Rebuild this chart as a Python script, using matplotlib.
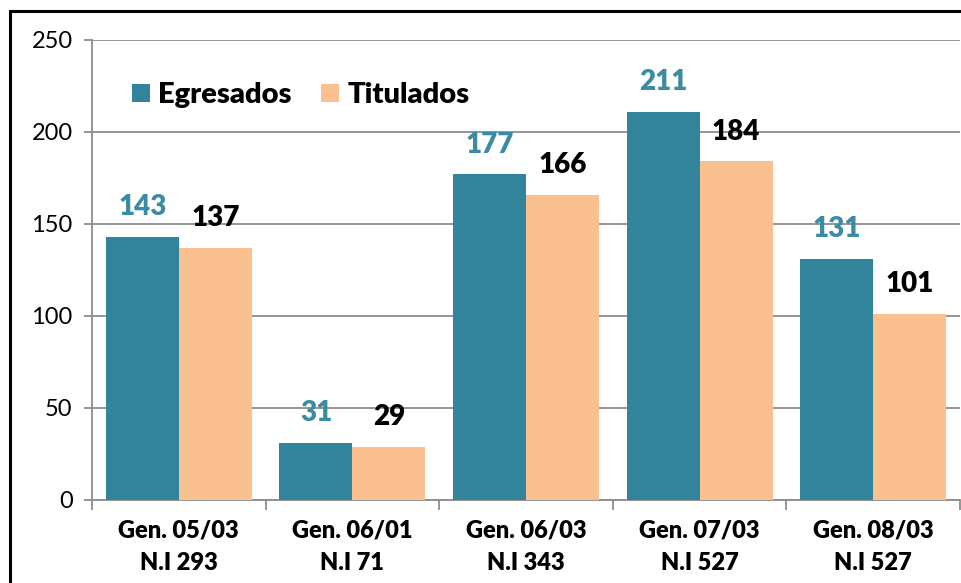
import matplotlib.pyplot as plt
from matplotlib.patches import Rectangle
import numpy as np

plt.rcParams['font.family'] = ['Lato', 'DejaVu Sans']

categorias = ["Gen. 05/03\nN.I 293", "Gen. 06/01\nN.I 71", "Gen. 06/03\nN.I 343",
              "Gen. 07/03\nN.I 527", "Gen. 08/03\nN.I 527"]
egresados = [143, 31, 177, 211, 131]
titulados = [137, 29, 166, 184, 101]

teal = "#31849B"
peach = "#FAC090"
gris = "#8C8C8C"
peso = "heavy"

fig = plt.figure(figsize=(9.61, 5.83), dpi=100)
ax = fig.add_axes([92/961, 1-500/583, 868/961, 460/583])

x = np.arange(len(categorias))
w = 0.42
b1 = ax.bar(x - w/2, egresados, w, color=teal, label="Egresados", zorder=3)
b2 = ax.bar(x + w/2, titulados, w, color=peach, label="Titulados", zorder=3)

for r, v in zip(b1, egresados):
    ax.annotate(str(v), (r.get_x() + r.get_width()/2, v), xytext=(0, 12),
                textcoords="offset points", ha="center", va="bottom",
                fontsize=20, fontweight=peso, color="#3A8BA3", zorder=4)
for r, v in zip(b2, titulados):
    ax.annotate(str(v), (r.get_x() + r.get_width()/2, v), xytext=(0, 12),
                textcoords="offset points", ha="center", va="bottom",
                fontsize=20, fontweight=peso, color="black", zorder=4)

ax.set_xlim(-0.5, len(categorias) - 0.5)
ax.set_ylim(0, 250)
ax.set_yticks(range(0, 251, 50))
ax.yaxis.grid(True, color=gris, linewidth=1.3, zorder=0)
ax.tick_params(axis="y", length=6, width=1.3, color=gris, labelsize=17, pad=8)

ax.set_xticks(x)
ax.set_xticklabels(categorias, fontsize=17, fontweight=peso, linespacing=1.6)
ax.set_xticks(np.arange(-0.5, len(categorias)), minor=True)
ax.tick_params(axis="x", which="major", length=0, pad=14)
ax.tick_params(axis="x", which="minor", length=7, width=1.3, color=gris)

for s in ["top", "right"]:
    ax.spines[s].set_visible(False)
for s in ["left", "bottom"]:
    ax.spines[s].set_color(gris)
    ax.spines[s].set_linewidth(1.3)

leg = ax.legend(loc="upper left", bbox_to_anchor=(0.016, 0.965), ncol=2, frameon=False,
                prop={"size": 21, "weight": peso}, handlelength=0.6, handleheight=0.6,
                handletextpad=0.3, columnspacing=1.0)

fig.patches.append(Rectangle((9.5/961, -0.1), 1.2, 1 - 10.5/583 + 0.1, transform=fig.transFigure,
                             fill=False, edgecolor="black", linewidth=2.2))

fig.savefig("out.png", dpi=100)
